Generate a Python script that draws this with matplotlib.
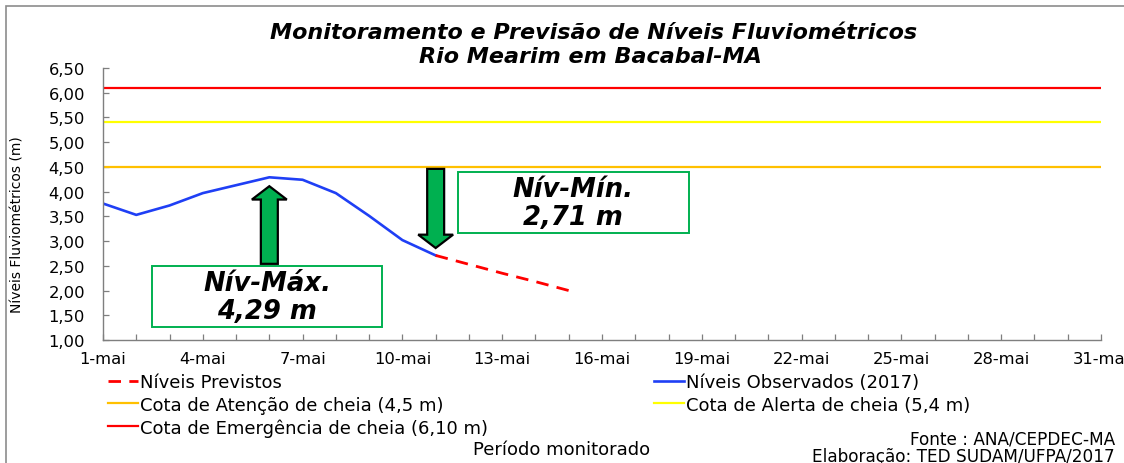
import matplotlib
matplotlib.use("Agg")
import matplotlib.pyplot as plt
from matplotlib.patches import Rectangle, FancyArrow
from matplotlib.ticker import FuncFormatter, MultipleLocator, FixedLocator

plt.rcParams['font.family'] = ['DejaVu Sans']

# ---- data ----
dias_obs = [1, 2, 3, 4, 5, 6, 7, 8, 9, 10, 11]
niveis_obs = [3.76, 3.53, 3.72, 3.97, 4.13, 4.29, 4.24, 3.97, 3.51, 3.02, 2.71]
dias_prev = [11, 12, 13, 14, 15]
niveis_prev = [2.71, 2.53, 2.35, 2.18, 2.00]
cota_atencao = 4.5
cota_alerta = 5.4
cota_emergencia = 6.10
dias_mes = list(range(1, 32))
dias_rotulo = list(range(1, 32, 3))
rotulos_x = [f"{d}-mai" for d in dias_rotulo]
niv_max = 4.29
niv_min = 2.71

W, H = 1124, 464
fig = plt.figure(figsize=(W / 100, H / 100), dpi=100)
ax = fig.add_axes([103 / W, (H - 341) / H, (1101 - 103) / W, (341 - 69) / H])

l_emer = ax.axhline(cota_emergencia, color='#FF0000', lw=1.6)
l_alert = ax.axhline(cota_alerta, color='#FFFF00', lw=1.6)
l_aten = ax.axhline(cota_atencao, color='#FFC000', lw=1.6)
l_obs, = ax.plot(dias_obs, niveis_obs, color='#1F3FF5', lw=1.9)
l_prev, = ax.plot(dias_prev, niveis_prev, color='#FF0000', lw=2.0,
                  dashes=(4.5, 3))

ax.set_xlim(1, 31)
ax.set_ylim(1.0, 6.5)
ax.yaxis.set_major_locator(MultipleLocator(0.5))
ax.yaxis.set_major_formatter(FuncFormatter(lambda v, p: f"{v:.2f}".replace('.', ',')))
ax.xaxis.set_major_locator(FixedLocator(dias_rotulo))
ax.set_xticklabels(rotulos_x)
ax.xaxis.set_minor_locator(FixedLocator(dias_mes))

for s in ['top', 'right']:
    ax.spines[s].set_visible(False)
for s in ['left', 'bottom']:
    ax.spines[s].set_color('#7F7F7F')
    ax.spines[s].set_linewidth(1.0)
ax.tick_params(axis='both', which='both', direction='in', length=4,
               color='#7F7F7F', width=0.9)
ax.tick_params(axis='y', labelsize=11.8, pad=13)
ax.tick_params(axis='x', labelsize=11.8, pad=8)

# ---- arrows and boxes ----
verde = '#00B050'
i_max = niveis_obs.index(niv_max)
x_max = dias_obs[i_max]
ax.add_patch(FancyArrow(x_max, 2.54, 0, (niv_max - 0.18) - 2.54, width=0.51,
                        head_width=1.05, head_length=0.27,
                        length_includes_head=True, fc=verde, ec='black', lw=1.6,
                        zorder=5))
i_min = niveis_obs.index(niv_min)
x_min = dias_obs[i_min]
ax.add_patch(FancyArrow(x_min, 4.46, 0, (niv_min + 0.15) - 4.46, width=0.51,
                        head_width=1.05, head_length=0.27,
                        length_includes_head=True, fc=verde, ec='black', lw=1.6,
                        zorder=5))

ax.add_patch(Rectangle((2.47, 1.262), 9.39 - 2.47, 2.496 - 1.262, fc='white',
                       ec=verde, lw=1.4, zorder=4))
ax.add_patch(Rectangle((11.67, 3.163), 18.61 - 11.67, 4.397 - 3.163, fc='white',
                       ec=verde, lw=1.4, zorder=4))
box_kw = dict(ha='center', va='center', fontsize=18.6, fontweight='bold',
              fontstyle='italic', zorder=6)
ax.text((2.47 + 9.39) / 2, 2.16, "Nív-Máx.", **box_kw)
ax.text((2.47 + 9.39) / 2, 1.58, f"{niv_max:.2f} m".replace('.', ','), **box_kw)
ax.text((11.67 + 18.61) / 2, 4.06, "Nív-Mín.", **box_kw)
ax.text((11.67 + 18.61) / 2, 3.48, f"{niv_min:.2f} m".replace('.', ','), **box_kw)

# ---- titles and labels ----
fig.text(594 / W, 1 - 33 / H, "Monitoramento e Previsão de Níveis Fluviométricos",
         ha='center', va='center', fontsize=16, fontweight='bold', fontstyle='italic')
fig.text(590 / W, 1 - 57 / H, "Rio Mearim em Bacabal-MA",
         ha='center', va='center', fontsize=16, fontweight='bold', fontstyle='italic')
fig.text(18 / W, 1 - 225 / H, "Níveis Fluviométricos (m)", rotation=90,
         ha='center', va='center', fontsize=10)
fig.text(562 / W, 1 - 450 / H, "Período monitorado", ha='center', va='center',
         fontsize=13)
fig.text(1115 / W, 1 - 440 / H, "Fonte : ANA/CEPDEC-MA", ha='right', va='center',
         fontsize=12.2)
fig.text(1115 / W, 1 - 457 / H, "Elaboração: TED SUDAM/UFPA/2017", ha='right',
         va='center', fontsize=12.2)

# ---- legend ----
leg_kw = dict(loc='upper left', frameon=False, fontsize=13, handlelength=1.65,
              handletextpad=0.15, labelspacing=0.25, borderpad=0, borderaxespad=0)
fig.legend([l_prev, l_aten, l_emer],
           ["Níveis Previstos", "Cota de Atenção de cheia (4,5 m)",
            "Cota de Emergência de cheia (6,10 m)"],
           bbox_to_anchor=(108 / W, 1 - 374 / H), **leg_kw)
fig.legend([l_obs, l_alert],
           ["Níveis Observados (2017)", "Cota de Alerta de cheia (5,4 m)"],
           bbox_to_anchor=(654 / W, 1 - 374 / H), **leg_kw)

# ---- outer frame ----
fig.add_artist(Rectangle((6 / W, -0.2), 1.2, 1.2 - 7 / H, fill=False,
                         ec='#8C8C8C', lw=1.2, transform=fig.transFigure))

fig.savefig('out.png', dpi=100)
